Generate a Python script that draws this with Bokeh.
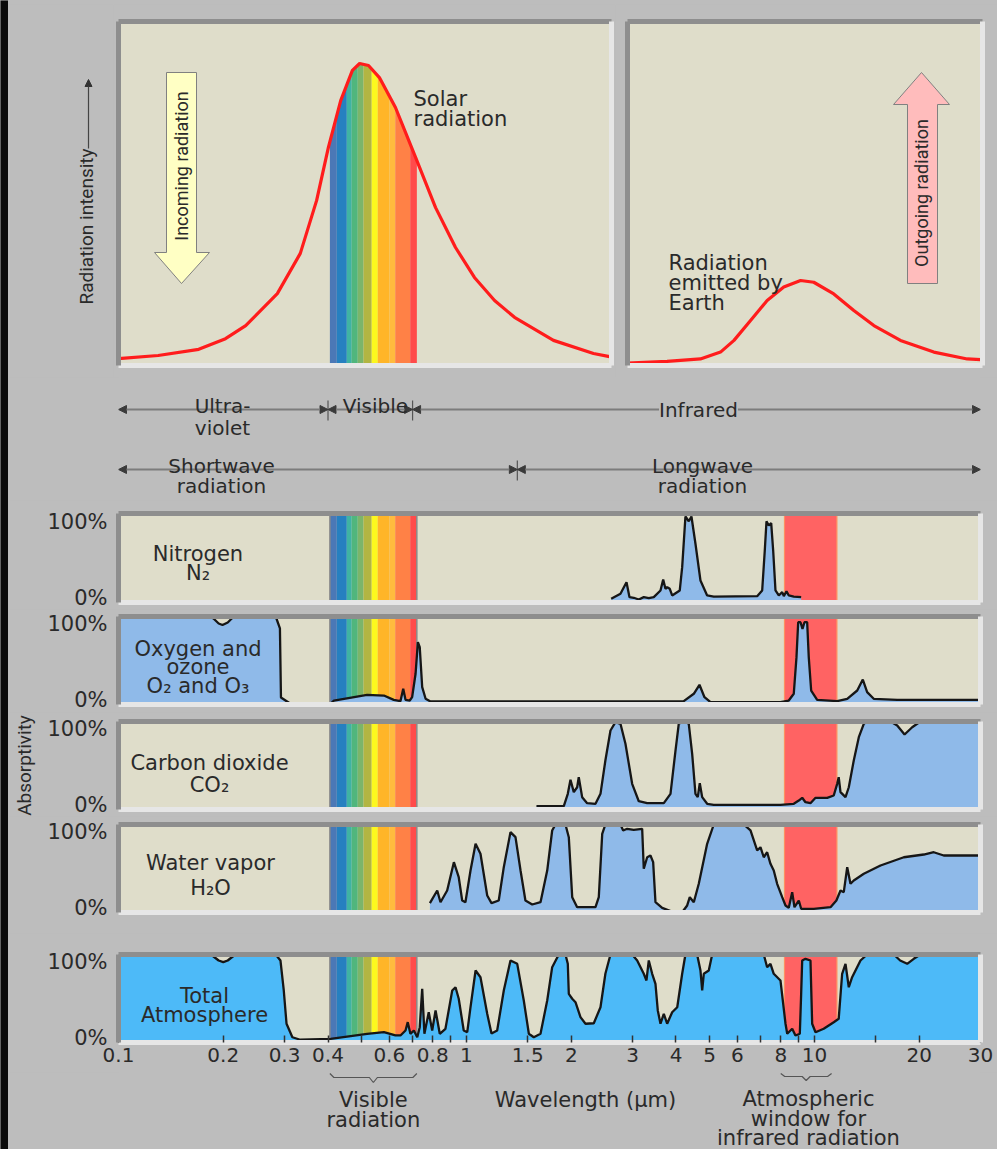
import numpy as np
from bokeh.plotting import figure
from bokeh.layouts import column, row
from bokeh.models import Range1d, LinearAxis, LogAxis, FixedTicker, Label, Arrow, NormalHead
from bokeh.embed import file_html
from bokeh.resources import INLINE

# ---------------- data (wavelength in micrometres, values in %) ----------------
solar_wl = [0.100, 0.130, 0.170, 0.203, 0.232, 0.286, 0.333, 0.371, 0.401, 0.435, 0.470, 0.493,
            0.523, 0.562, 0.625, 0.714, 0.815, 0.930, 1.054, 1.204, 1.374, 1.778, 2.317, 2.576]
solar_int = [2.0, 2.9, 4.7, 7.8, 11.6, 20.9, 32.6, 48.0, 63.4, 77.0, 85.8, 87.8,
             87.2, 83.7, 75.0, 60.5, 45.9, 34.3, 25.6, 18.9, 14.0, 7.3, 3.5, 2.6]

earth_wl = [2.90, 3.77, 4.70, 5.37, 5.87, 6.55, 7.31, 8.16, 9.12, 9.95, 11.36, 12.97, 14.81,
            17.66, 22.02, 27.47, 30.0]
earth_int = [0.7, 1.2, 1.9, 3.9, 7.3, 13.1, 18.9, 22.8, 24.7, 24.2, 20.8, 16.0, 11.6,
             7.3, 3.9, 1.9, 1.7]

n2_wl = [2.605, 2.770, 2.883, 2.941, 3.025, 3.127, 3.232, 3.341, 3.453, 3.610, 3.675, 3.731, 3.773,
         3.839, 3.900, 4.101, 4.167, 4.258, 4.353, 4.431, 4.550, 4.703, 4.916, 5.136, 6.844, 7.075,
         7.198, 7.280, 7.391, 7.510, 7.609, 7.726, 7.897, 8.077, 8.164, 8.310, 8.437, 8.720, 9.157]
n2_abs = [4.2, 9.8, 22.8, 6.0, 5.3, 3.4, 6.0, 4.8, 6.0, 13.5, 25.8, 15.4, 17.2,
          15.4, 7.9, 13.5, 39.7, 96.6, 91.3, 96.6, 66.0, 24.7, 7.9, 6.7, 7.1, 13.5,
          58.4, 91.3, 86.5, 89.1, 58.4, 13.5, 7.9, 11.6, 7.1, 12.7, 7.9, 6.7, 6.0]

o2_wl = [0.100, 0.184, 0.1875, 0.194, 0.199, 0.206, 0.213, 0.217, 0.283, 0.291,
         0.293, 0.312, 0.407, 0.416, 0.518, 0.579, 0.618, 0.646, 0.658, 0.668,
         0.687, 0.698, 0.714, 0.725, 0.734, 0.746, 0.763, 0.788, 4.211, 4.500,
         4.672, 4.830, 5.026, 7.985, 8.437, 8.720, 8.878, 8.979, 9.117, 9.238,
         9.360, 9.528, 9.629, 9.784, 10.18, 11.62, 12.42, 13.27, 13.77, 14.17,
         14.80, 17.29, 30.0]
o2_abs = [100, 100, 97.7, 92.0, 90.3, 93.2, 98.9, 100, 100, 86.4,
          8.0, 0.8, 0.8, 4.5, 11.0, 10.2, 5.3, 3.8, 17.8, 5.3,
          4.5, 8.3, 34.9, 70.8, 65.1, 19.7, 6.5, 3.4, 3.8, 12.2,
          22.4, 8.3, 2.6, 2.6, 4.5, 12.2, 53.8, 93.5, 93.5, 86.0,
          93.5, 93.5, 53.8, 15.9, 5.3, 3.8, 6.5, 15.9, 28.4, 14.0,
          6.5, 5.3, 5.3]

co2_wl = [1.589, 1.904, 1.955, 1.990, 2.034, 2.080, 2.102, 2.150, 2.222, 2.348,
          2.427, 2.507, 2.593, 2.680, 2.770, 2.863, 2.993, 3.127, 3.306, 3.690,
          3.857, 3.987, 4.074, 4.211, 4.353, 4.452, 4.550, 4.620, 4.682, 4.757,
          4.916, 5.136, 7.985, 8.720, 9.015, 9.220, 9.422, 9.739, 10.07, 10.88,
          11.36, 11.62, 11.74, 11.88, 12.28, 12.55, 12.97, 13.41, 13.86, 14.17,
          16.54, 17.29, 18.15, 19.09, 20.16, 30.0]
co2_abs = [3.75, 3.75, 17.8, 33.8, 19.7, 25.3, 36.7, 14.0, 7.2, 6.5,
           17.8, 55.7, 89.8, 99.2, 97.4, 74.7, 29.2, 9.4, 7.2, 7.2,
           17.8, 67.0, 97.4, 100, 97.4, 63.3, 17.8, 14.0, 29.9, 14.0,
           6.5, 5.3, 5.3, 6.5, 10.2, 13.3, 8.3, 7.2, 13.3, 13.3,
           15.9, 29.2, 36.7, 19.7, 14.0, 25.3, 55.7, 82.2, 97.4, 100,
           100, 95.5, 85.2, 93.5, 100, 100]

h2o_wl = [0.785, 0.824, 0.842, 0.880, 0.920, 0.950, 0.972, 0.993, 1.027, 1.062,
          1.097, 1.147, 1.180, 1.238, 1.280, 1.338, 1.383, 1.430, 1.477, 1.545,
          1.632, 1.706, 1.763, 1.802, 1.925, 1.968, 2.013, 2.080, 2.348, 2.400,
          2.455, 2.507, 2.770, 2.820, 2.896, 3.025, 3.198, 3.232, 3.306, 3.378,
          3.439, 3.492, 3.651, 3.942, 4.167, 4.307, 4.382, 4.500, 4.651, 4.916,
          5.136, 6.263, 6.549, 6.844, 6.995, 7.150, 7.311, 7.474, 7.638, 7.812,
          8.077, 8.256, 8.437, 8.629, 8.761, 9.015, 9.157, 9.954, 11.12, 11.56,
          11.88, 12.14, 12.42, 12.69, 12.97, 13.86, 15.48, 18.06, 20.61, 22.02,
          23.52, 30.0]
h2o_abs = [10.6, 25.0, 11.7, 25.0, 57.2, 40.1, 13.6, 11.7, 47.7, 78.1,
           66.7, 19.3, 10.6, 13.6, 51.5, 91.3, 85.6, 47.7, 13.6, 9.1,
           11.7, 47.7, 93.2, 100, 100, 85.6, 17.4, 6.0, 6.0, 17.4,
           89.4, 100, 100, 93.2, 95.1, 94.0, 95.1, 49.7, 62.8, 64.8,
           57.2, 11.7, 5.3, 0.3, 0.3, 8.0, 17.4, 11.7, 32.6, 78.1,
           100, 100, 93.2, 70.5, 74.2, 62.8, 68.5, 55.3, 47.7, 32.6,
           17.4, 8.0, 5.3, 23.1, 6.0, 13.6, 4.2, 4.2, 6.0, 13.6,
           25.0, 23.1, 51.5, 32.6, 36.4, 44.0, 53.4, 62.8, 65.9, 68.5,
           64.8, 64.8]

total_wl = [0.100, 0.184, 0.1875, 0.194, 0.200, 0.206, 0.213, 0.217, 0.283, 0.292,
            0.2985, 0.304, 0.316, 0.333, 0.407, 0.518, 0.579, 0.625, 0.646, 0.668,
            0.678, 0.690, 0.706, 0.722, 0.734, 0.746, 0.757, 0.779, 0.797, 0.815,
            0.838, 0.870, 0.910, 0.930, 0.950, 0.982, 1.005, 1.027, 1.062, 1.097,
            1.147, 1.180, 1.225, 1.280, 1.338, 1.399, 1.461, 1.511, 1.561, 1.632,
            1.706, 1.763, 1.842, 1.925, 1.955, 1.968, 2.013, 2.057, 2.126, 2.198,
            2.322, 2.427, 2.507, 2.593, 2.993, 3.094, 3.232, 3.290, 3.341, 3.417,
            3.492, 3.546, 3.610, 3.690, 3.773, 3.900, 4.033, 4.167, 4.258, 4.600,
            4.703, 4.757, 4.808, 4.969, 5.082, 7.150, 7.311, 7.474, 7.638, 7.985,
            8.256, 8.350, 8.629, 8.819, 9.076, 9.157, 9.220, 9.422, 9.739, 9.849,
            10.07, 10.63, 11.36, 11.74, 12.01, 12.28, 12.55, 12.83, 13.56, 14.17,
            16.90, 17.63, 18.47, 19.29, 20.16, 30.0]
total_abs = [100, 100, 97.7, 93.2, 91.3, 93.2, 97.7, 100, 100, 93.2,
             59.1, 21.3, 6.0, 3.1, 4.2, 9.9, 11.7, 8.0, 8.0, 13.6,
             23.1, 9.9, 13.6, 6.0, 17.4, 61.0, 9.9, 34.4, 13.6, 36.4,
             9.9, 15.6, 59.1, 62.8, 49.7, 13.6, 11.7, 40.1, 81.8, 74.2,
             32.6, 10.2, 13.6, 59.1, 93.2, 89.4, 47.7, 9.9, 6.0, 9.9,
             47.7, 85.6, 100, 100, 89.4, 55.3, 49.7, 45.8, 28.8, 21.3,
             21.9, 40.1, 78.1, 100, 100, 93.2, 78.1, 70.5, 93.2, 78.1,
             66.7, 36.4, 21.3, 32.6, 21.3, 34.4, 40.1, 78.1, 100, 100,
             81.8, 59.1, 78.1, 81.8, 100, 100, 85.6, 89.4, 78.1, 70.5,
             21.3, 9.9, 15.6, 8.0, 9.9, 55.3, 93.2, 95.1, 93.2, 21.3,
             11.7, 15.6, 23.1, 26.9, 78.1, 89.4, 62.8, 74.2, 93.2, 100,
             100, 93.2, 89.4, 95.1, 100, 100]

vis_edges = [0.405, 0.424, 0.453, 0.468, 0.487, 0.506, 0.534, 0.556, 0.600, 0.624, 0.689, 0.720]
vis_colors = ["#4b78b6", "#2680c0", "#3fb3a3", "#50b67d", "#7bb56a", "#b2b542",
              "#fcf81e", "#ffb528", "#ffbb3e", "#ff8146", "#ff4b4b"]
window_band = [8.2, 11.6]

xtick_vals = [0.1, 0.2, 0.3, 0.4, 0.6, 0.8, 1, 1.5, 2, 3, 4, 5, 6, 8, 10, 20, 30]
xtick_labels = ["0.1", "0.2", "0.3", "0.4", "0.6", "0.8", "1", "1.5", "2", "3", "4", "5", "6",
                "8", "10", "20", "30"]
xminor_vals = [0.5, 0.7, 0.9, 7, 9, 15]
ytick_labels = ["0%", "100%"]

row1_bounds = [0.1, 0.4, 0.7, 30]      # ultraviolet | visible | infrared
row2_bounds = [0.1, 1.4, 30]           # shortwave | longwave

# ---------------- styling ----------------
GRAY = "#bdbdbd"
BLACK = "#0a0a0a"
BEIGE = "#dfddca"
DARK = "#8e8e8e"
LIGHT = "#e6e6e6"
TXT = "#2a2a2a"
FONT = "DejaVu Sans"
NARROW = "Roboto"
GAS_BLUE = "#8fbae9"
TOTAL_BLUE = "#4dbaf8"
WINDOW_RED = "#ff6363"
CURVE_RED = "#ff1c1c"
LINE = "#161616"

PX_PER_DEC = 348.0
X0_PX = 118.0  # page x of 0.1 micrometre


def lam(px):
    """page x (pixels) -> wavelength, for placing annotations"""
    return 0.1 * 10 ** ((px - X0_PX) / PX_PER_DEC)


def tv(py):
    """page y (pixels) -> value in the two top panels"""
    return (365 - py) / 344 * 100


def base_fig(width, height, x_range, y_range, left, right, top, bottom, bg, log=True):
    p = figure(width=width, height=height, x_axis_type="log" if log else "linear",
               x_range=Range1d(*x_range), y_range=Range1d(*y_range),
               x_axis_location=None, y_axis_location=None,
               output_backend="svg", toolbar_location=None,
               min_border_left=left, min_border_right=right, min_border_top=top,
               min_border_bottom=bottom, background_fill_color=bg, border_fill_color=GRAY,
               outline_line_color=None)
    p.grid.visible = False
    return p


def plain_axis(color, w=5):
    return LinearAxis(ticker=FixedTicker(ticks=[]), axis_line_color=color, axis_line_width=w,
                      major_tick_line_color=None, minor_tick_line_color=None,
                      major_tick_out=0, major_tick_in=0, minor_tick_out=0, minor_tick_in=0,
                      major_label_text_font_size="0px", major_label_standoff=0)


def bevel(p):
    for loc, color in (("above", DARK), ("left", DARK), ("right", LIGHT), ("below", LIGHT)):
        p.add_layout(plain_axis(color), loc)


def label(p, x, y, text, size="21px", font=FONT, align="center", baseline="alphabetic",
          angle=0, **kw):
    p.add_layout(Label(x=x, y=y, text=text, text_font=font, text_font_size=size,
                       text_color=TXT, text_align=align, text_baseline=baseline,
                       angle=angle, **kw))


def rainbow_under(p, wl, vals):
    lw = np.log10(wl)
    for a, b, c in zip(vis_edges[:-1], vis_edges[1:], vis_colors):
        xs = [a] + [w for w in wl if a < w < b] + [b]
        ys = np.interp(np.log10(xs), lw, vals)
        p.varea(x=xs, y1=0, y2=ys, fill_color=c)


def arrow_shape(p, pts, color):
    p.patch([lam(x) for x, _ in pts], [tv(y) for _, y in pts], fill_color=color,
            line_color="#808080", line_width=1)


def strip(width, height):
    s = figure(width=width, height=height, x_range=Range1d(0, 1), y_range=Range1d(0, 1),
               x_axis_location=None, y_axis_location=None, output_backend="svg",
               toolbar_location=None, min_border=0, background_fill_color=BLACK,
               border_fill_color=BLACK, outline_line_color=None)
    s.grid.visible = False
    return s


# ---------------- top panels ----------------
# y-label panel: frame aligned with the solar panel frame, data y = page y
p_ylab = base_fig(105, 373, (8, 113), (365, 21), 0, 0, 17, 12, GRAY, log=False)
label(p_ylab, 86, 226, "Radiation intensity", size="19px", font=NARROW, baseline="middle",
      angle=np.pi / 2)
p_ylab.add_layout(Arrow(x_start=88, y_start=148, x_end=88, y_end=79,
                        end=NormalHead(size=7, fill_color="#333333", line_color="#333333"),
                        line_color="#444444", line_width=1.2))

p_sun = base_fig(502, 373, (0.1, lam(611)), (0, 100), 5, 4, 17, 12, BEIGE)
bevel(p_sun)
rainbow_under(p_sun, solar_wl, solar_int)
p_sun.line(solar_wl, solar_int, line_color=CURVE_RED, line_width=3.2)
arrow_shape(p_sun, [(166, 72), (196, 72), (196, 252), (209, 252), (181, 283), (154, 252), (166, 252)],
            "#ffffc4")
label(p_sun, lam(181), tv(165.5), "Incoming radiation", size="18px", font=NARROW,
      baseline="middle", angle=np.pi / 2)
label(p_sun, lam(413), tv(98), "Solar", align="left")
label(p_sun, lam(413), tv(118), "radiation", align="left")

p_earth = base_fig(382, 373, (lam(627), lam(982)), (0, 100), 12, 15, 17, 12, BEIGE)
bevel(p_earth)
p_earth.line(earth_wl, earth_int, line_color=CURVE_RED, line_width=3.2)
arrow_shape(p_earth, [(907, 283), (937, 283), (937, 104), (949, 104), (921, 72), (893, 104), (907, 104)],
            "#ffbcbc")
label(p_earth, lam(921), tv(192.5), "Outgoing radiation", size="18px", font=NARROW,
      baseline="middle", angle=np.pi / 2)
for txt, py in (("Radiation", 262), ("emitted by", 282), ("Earth", 302)):
    label(p_earth, lam(668), tv(py), txt, align="left")

# ---------------- region arrows ----------------
FULL_W, LEFT, RIGHT = 989, 110, 17
p_arr = base_fig(FULL_W, 123, (0.1, 30), (0, 123), LEFT, RIGHT, 0, 0, GRAY)


def head():
    return NormalHead(size=8, fill_color="#3a3a3a", line_color="#3a3a3a", line_width=1)


for bounds, yy in ((row1_bounds, 91), (row2_bounds, 31)):
    for a, b in zip(bounds[:-1], bounds[1:]):
        p_arr.add_layout(Arrow(start=head(), end=head(), x_start=a, y_start=yy, x_end=b, y_end=yy,
                               line_color="#7c7c7c", line_width=1.8))
    inner = bounds[1:-1]
    p_arr.segment(x0=inner, y0=[yy - 11] * len(inner), x1=inner, y1=[yy + 9] * len(inner),
                  line_color="#555555", line_width=1.2)

label(p_arr, lam(222), 95, "Ultra-", size="20px")
label(p_arr, lam(222), 73, "violet", size="20px")
label(p_arr, lam(375), 95, "Visible", size="20px")
label(p_arr, lam(698), 91, "Infrared", size="20px", baseline="middle",
      background_fill_color=GRAY)
label(p_arr, lam(221), 35, "Shortwave", size="20px")
label(p_arr, lam(221), 15, "radiation", size="20px")
label(p_arr, lam(702), 35, "Longwave", size="20px")
label(p_arr, lam(702), 15, "radiation", size="20px")

# ---------------- absorptivity panels ----------------
ytick_pos = [5, 91]


def gas_fig(height, top, bottom, wl, ab, fill, name_x, names, axis_label=None, xaxis=False):
    p = base_fig(FULL_W, height, (0.1, 30), (0, 100), LEFT, RIGHT, top, bottom, BEIGE)
    p.quad(left=vis_edges[:-1], right=vis_edges[1:], bottom=0, top=100,
           fill_color=vis_colors, line_color=None)
    p.segment(x0=[vis_edges[0], vis_edges[-1]], y0=[0, 0], x1=[vis_edges[0], vis_edges[-1]],
              y1=[100, 100], line_color="#8a8a8a", line_width=1.5)
    p.quad(left=[window_band[0]], right=[window_band[1]], bottom=0, top=100,
           fill_color=WINDOW_RED, line_color="#ff9060", line_width=1.2)
    p.varea(x=wl, y1=0, y2=ab, fill_color=fill)
    p.line(wl, ab, line_color=LINE, line_width=2.3)

    ya = LinearAxis(ticker=FixedTicker(ticks=ytick_pos),
                    major_label_overrides=dict(zip(ytick_pos, ytick_labels)),
                    axis_line_color=DARK, axis_line_width=5,
                    major_tick_line_color=None, minor_tick_line_color=None,
                    major_tick_out=0, major_tick_in=0, minor_tick_out=0, minor_tick_in=0,
                    major_label_text_font=FONT, major_label_text_font_size="21px",
                    major_label_text_color=TXT, major_label_standoff=11)
    if axis_label:
        ya.axis_label = axis_label
        ya.axis_label_text_font = NARROW
        ya.axis_label_text_font_size = "19px"
        ya.axis_label_text_font_style = "normal"
        ya.axis_label_text_color = TXT
        ya.axis_label_standoff = 8
    p.add_layout(ya, "left")
    p.add_layout(plain_axis(DARK), "above")
    p.add_layout(plain_axis(LIGHT), "right")
    if xaxis:
        xa = LogAxis(ticker=FixedTicker(ticks=xtick_vals, minor_ticks=xminor_vals),
                     major_label_overrides=dict(zip(xtick_vals, xtick_labels)),
                     axis_line_color=LIGHT, axis_line_width=5,
                     major_tick_in=7, major_tick_out=0, minor_tick_in=7, minor_tick_out=0,
                     major_tick_line_color="#333333", minor_tick_line_color="#333333",
                     major_tick_line_width=1.5, minor_tick_line_width=1.5,
                     major_label_text_font=FONT, major_label_text_font_size="20px",
                     major_label_text_color=TXT, major_label_standoff=5)
        p.add_layout(xa, "below")
    else:
        p.add_layout(plain_axis(LIGHT), "below")
    for txt, yy in names:
        label(p, lam(name_x), yy, txt)
    return p


p_n2 = gas_fig(109, 13, 7, n2_wl, n2_abs, GAS_BLUE, 197.5, [("Nitrogen", 54.0), ("N₂", 32.9)])
p_o2 = gas_fig(103, 7, 8, o2_wl, o2_abs, GAS_BLUE, 197.5,
               [("Oxygen and", 63.3), ("ozone", 42.4), ("O₂ and O₃", 20.5)])
p_co2 = gas_fig(104, 9, 7, co2_wl, co2_abs, GAS_BLUE, 209,
                [("Carbon dioxide", 52.3), ("CO₂", 27.3)], axis_label="Absorptivity")
p_h2o = gas_fig(117, 8, 21, h2o_wl, h2o_abs, GAS_BLUE, 210, [("Water vapor", 55.7), ("H₂O", 28.4)])
p_tot = gas_fig(139, 21, 30, total_wl, total_abs, TOTAL_BLUE, 204,
                [("Total", 53.4), ("Atmosphere", 30.7)], xaxis=True)

# ---------------- bottom notes ----------------
p_note = base_fig(FULL_W, 77, (0.1, 30), (0, 77), LEFT, RIGHT, 0, 0, GRAY)


def brace(p, a, b, top, mid, tip):
    la, lb = np.log10(a), np.log10(b)
    lc = (la + lb) / 2
    d = 4 / PX_PER_DEC
    xs = 10 ** np.array([la, la + d, lc - d, lc, lc + d, lb - d, lb])
    p.line(xs, [top, mid, mid, tip, mid, mid, top], line_color="#555555", line_width=1.2)


brace(p_note, vis_edges[0], vis_edges[-1], 76, 72, 67)
brace(p_note, window_band[0] - 0.2, window_band[1] - 0.4, 76, 73, 69)
vis_c = float(np.sqrt(vis_edges[0] * vis_edges[-1]))
label(p_note, vis_c, 50, "Visible")
label(p_note, vis_c, 30, "radiation")
label(p_note, lam(585), 50, "Wavelength (μm)")
label(p_note, lam(808), 51, "Atmospheric")
label(p_note, lam(808), 31, "window for")
label(p_note, lam(808), 12, "infrared radiation")

main = column(strip(FULL_W, 4), row(p_ylab, p_sun, p_earth), p_arr, p_n2, p_o2, p_co2, p_h2o,
              p_tot, p_note)
layout = row(strip(8, 1149), main)

html = file_html(layout, INLINE)
html = html.replace("</head>", "<style>html, body { background: #bdbdbd; }</style></head>", 1)
open("out.html", "w").write(html)
